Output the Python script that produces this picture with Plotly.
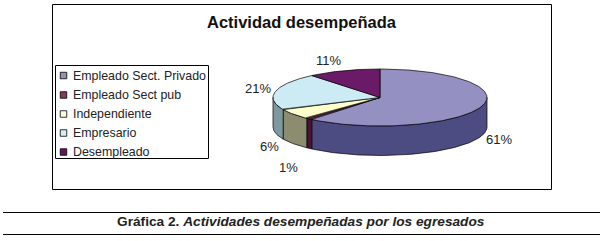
import numpy as np
import plotly.graph_objects as go

# ---- data ----
CATEGORIES = ["Empleado Sect. Privado", "Empleado Sect pub", "Independiente", "Empresario", "Desempleado"]
VALUES = [61, 1, 6, 21, 11]
TITLE = "Actividad desempeñada"
CAPTION = "<b>Gráfica 2. </b><b><i>Actividades desempeñadas por los egresados</i></b>"

# ---- styles ----
TOP_COLORS = ["#9590C2", "#6E1C4A", "#FFFFCC", "#CDEBF4", "#6A1A66"]
SIDE_COLORS = ["#4C4B82", "#4A1233", "#8C8C70", "#7D989E", "#45104A"]
LEGEND_COLORS = ["#9590B5", "#8A3560", "#FFFFD8", "#D5F0F5", "#5E1A5E"]
FONT = "Liberation Sans, Arial, sans-serif"
TEXT = "#222222"

# pie projection, in pixels
CX, CY, A, B, DEPTH = 380, 97.5, 107, 28.5, 29.5

# text offsets of the pie's value labels, in pixels
LABEL_POS = [(499, 139), (288, 167), (269, 146), (258, 88), (328, 60)]


def arc(t0, t1):
    t = np.radians(np.linspace(t0, t1, max(3, int(abs(t1 - t0)) + 2)))
    return CX + A * np.sin(t), CY - B * np.cos(t)


fig = go.Figure()
fracs = np.array(VALUES, dtype=float) / sum(VALUES) * 360
ends = np.cumsum(fracs)
starts = ends - fracs


def poly(x, y, fill, width=0.7):
    fig.add_trace(go.Scatter(x=x, y=y, mode="lines", fill="toself", fillcolor=fill,
                             line=dict(color="#000000", width=width),
                             hoverinfo="skip", showlegend=False))


# walls of the slices that face the viewer
for i in range(len(VALUES)):
    t0, t1 = max(starts[i], 90), min(ends[i], 270)
    if t1 <= t0:
        continue
    xa, ya = arc(t0, t1)
    x = np.r_[xa, xa[::-1], xa[0]]
    y = np.r_[ya, ya[::-1] + DEPTH, ya[0]]
    poly(x, y, SIDE_COLORS[i])

# top faces
for i in range(len(VALUES)):
    xa, ya = arc(starts[i], ends[i])
    poly(np.r_[CX, xa, CX], np.r_[CY, ya, CY], TOP_COLORS[i])

# legend swatches
LEG_X, LEG_Y = 63.5, [75.5, 95, 114, 133, 152]
fig.add_trace(go.Scatter(x=[LEG_X] * len(CATEGORIES), y=LEG_Y, mode="markers",
                         marker=dict(symbol="square", size=6.5, color=LEGEND_COLORS,
                                     line=dict(color="#000000", width=0.8)),
                         hoverinfo="skip", showlegend=False))

ann = []
for name, y in zip(CATEGORIES, LEG_Y):
    ann.append(dict(x=71, y=y, text=name, xanchor="left", yanchor="middle", showarrow=False,
                    font=dict(family=FONT, size=12.4, color=TEXT)))
for v, (x, y) in zip(VALUES, LABEL_POS):
    ann.append(dict(x=x, y=y, text=f"{v}%", xanchor="center", yanchor="middle", showarrow=False,
                    font=dict(family=FONT, size=13, color=TEXT)))
ann.append(dict(x=301.5, y=22, text=f"<b>{TITLE}</b>", xanchor="center", yanchor="middle", showarrow=False,
                font=dict(family=FONT, size=16.5, color="#111111")))
ann.append(dict(x=301, y=221.5, text=CAPTION, xanchor="center", yanchor="middle", showarrow=False,
                font=dict(family=FONT, size=13.7, color="#222222")))

line = dict(color="#000000", width=1)
shapes = [
    dict(type="rect", x0=52.5, y0=4.5, x1=551.5, y1=189.5, line=line, layer="below"),
    dict(type="rect", x0=55.5, y0=65.5, x1=208.5, y1=158.5, line=line, layer="below"),
    dict(type="line", x0=3, y0=212.5, x1=600, y1=212.5, line=line),
    dict(type="line", x0=3, y0=234.5, x1=600, y1=234.5, line=line),
]

fig.update_layout(
    width=604, height=241, autosize=False,
    margin=dict(l=0, r=0, t=0, b=0),
    paper_bgcolor="#FFFFFF", plot_bgcolor="#FFFFFF",
    xaxis=dict(range=[0, 604], visible=False, fixedrange=True),
    yaxis=dict(range=[241, 0], visible=False, fixedrange=True),
    annotations=ann, shapes=shapes,
)
fig.write_html("out.html", config=dict(displayModeBar=False),
               post_script="document.body.style.margin='0';document.documentElement.style.overflow='hidden';")
